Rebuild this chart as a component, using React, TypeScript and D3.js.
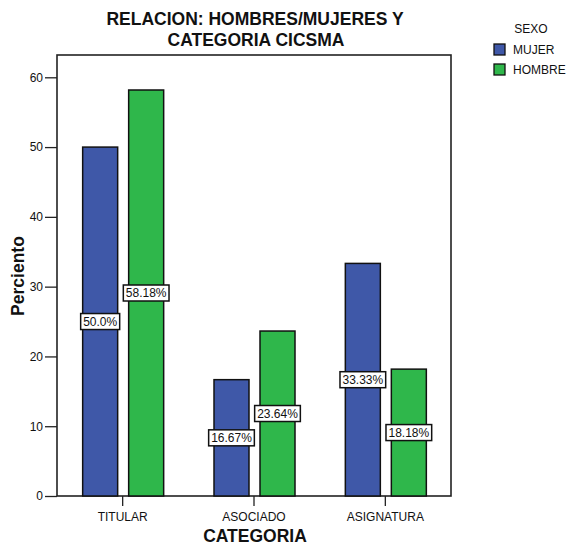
import React, { useEffect, useRef } from "react";
import * as d3 from "d3";

const categories = ["TITULAR", "ASOCIADO", "ASIGNATURA"];
const series = ["MUJER", "HOMBRE"];
const mujer = [50.0, 16.67, 33.33];
const hombre = [58.18, 23.64, 18.18];
const barLabels = [["50.0%", "16.67%", "33.33%"], ["58.18%", "23.64%", "18.18%"]];
const yTicks = [0, 10, 20, 30, 40, 50, 60];
const colors = ["#3f58a8", "#2fb74b"];

const FONT = "'Liberation Sans', Arial, sans-serif";

export default function App() {
  const ref = useRef<SVGSVGElement>(null);

  useEffect(() => {
    const svg = d3.select(ref.current);
    svg.selectAll("*").remove();

    const left = 57, right = 451, top = 55, bottom = 496;

    const x = d3.scaleBand().domain(categories).range([left, right]).padding(0);
    const y = d3.scaleLinear().domain([0, 60]).range([bottom, 77.3]);
    const offsets = [-22.5, 23.5];
    const barW = 35;

    // frame
    svg.append("rect")
      .attr("x", left).attr("y", top)
      .attr("width", right - left).attr("height", bottom - top)
      .attr("fill", "white").attr("stroke", "#222").attr("stroke-width", 1.6);

    // y axis
    const yAxis = svg.append("g").attr("transform", `translate(${left},0)`)
      .call(d3.axisLeft(y).tickValues(yTicks).tickSize(12).tickPadding(2).tickFormat(d3.format("d")));
    yAxis.select(".domain").remove();
    yAxis.selectAll("line").attr("stroke", "#222").attr("stroke-width", 1.3);
    yAxis.selectAll("text").attr("font-family", FONT).attr("font-size", 12).attr("fill", "#111");

    // x axis
    const xAxis = svg.append("g").attr("transform", `translate(0,${bottom})`)
      .call(d3.axisBottom(x).tickSize(10).tickPadding(6));
    xAxis.select(".domain").remove();
    xAxis.selectAll("line").attr("stroke", "#222").attr("stroke-width", 1.3);
    xAxis.selectAll("text").attr("font-family", FONT).attr("font-size", 12).attr("fill", "#111");

    const data = [mujer, hombre];
    const canvas = document.createElement("canvas");
    const ctx = canvas.getContext("2d")!;
    ctx.font = `12px ${FONT}`;

    data.forEach((vals, s) => {
      svg.append("g").selectAll("rect")
        .data(vals)
        .join("rect")
        .attr("x", (d, i) => x(categories[i])! + x.bandwidth() / 2 + offsets[s] - barW / 2)
        .attr("y", d => y(d))
        .attr("width", barW)
        .attr("height", d => bottom - y(d))
        .attr("fill", colors[s])
        .attr("stroke", "#111")
        .attr("stroke-width", 1.5);
    });

    data.forEach((vals, s) => {
      vals.forEach((v, i) => {
        const cx = x(categories[i])! + x.bandwidth() / 2 + offsets[s];
        const cy = y(v / 2);
        const label = barLabels[s][i];
        const w = ctx.measureText(label).width + 5;
        const g = svg.append("g");
        g.append("rect")
          .attr("x", cx - w / 2).attr("y", cy - 8)
          .attr("width", w).attr("height", 16)
          .attr("fill", "white").attr("stroke", "#111").attr("stroke-width", 1.5);
        g.append("text")
          .attr("x", cx).attr("y", cy + 4.3)
          .attr("text-anchor", "middle")
          .attr("font-family", FONT).attr("font-size", 12).attr("fill", "#111")
          .text(label);
      });
    });

    // title
    const title = svg.append("text").attr("text-anchor", "middle")
      .attr("font-family", FONT).attr("font-size", 17.5).attr("font-weight", "bold").attr("fill", "#111");
    title.append("tspan").attr("x", 255).attr("y", 25).text("RELACION: HOMBRES/MUJERES Y");
    title.append("tspan").attr("x", 256).attr("y", 45.5).text("CATEGORIA CICSMA");

    // axis titles
    svg.append("text")
      .attr("transform", `translate(24,276) rotate(-90)`)
      .attr("text-anchor", "middle")
      .attr("font-family", FONT).attr("font-size", 17.5).attr("font-weight", "bold").attr("fill", "#111")
      .text("Perciento");
    svg.append("text")
      .attr("x", 255).attr("y", 541.5)
      .attr("text-anchor", "middle")
      .attr("font-family", FONT).attr("font-size", 17.5).attr("font-weight", "bold").attr("fill", "#111")
      .text("CATEGORIA");

    // legend
    const legend = svg.append("g");
    legend.append("text")
      .attr("x", 531).attr("y", 33).attr("text-anchor", "middle")
      .attr("font-family", FONT).attr("font-size", 12).attr("fill", "#111")
      .text("SEXO");
    series.forEach((name, i) => {
      legend.append("rect")
        .attr("x", 494).attr("y", 44 + i * 20)
        .attr("width", 11).attr("height", 11)
        .attr("fill", colors[i]).attr("stroke", "#111").attr("stroke-width", 1.3);
      legend.append("text")
        .attr("x", 513).attr("y", 54 + i * 20)
        .attr("font-family", FONT).attr("font-size", 12).attr("fill", "#111")
        .text(name);
    });
  }, []);

  return (
    <svg ref={ref} width={570} height={545}
      style={{ position: "absolute", left: 0, top: 0, background: "white" }} />
  );
}
